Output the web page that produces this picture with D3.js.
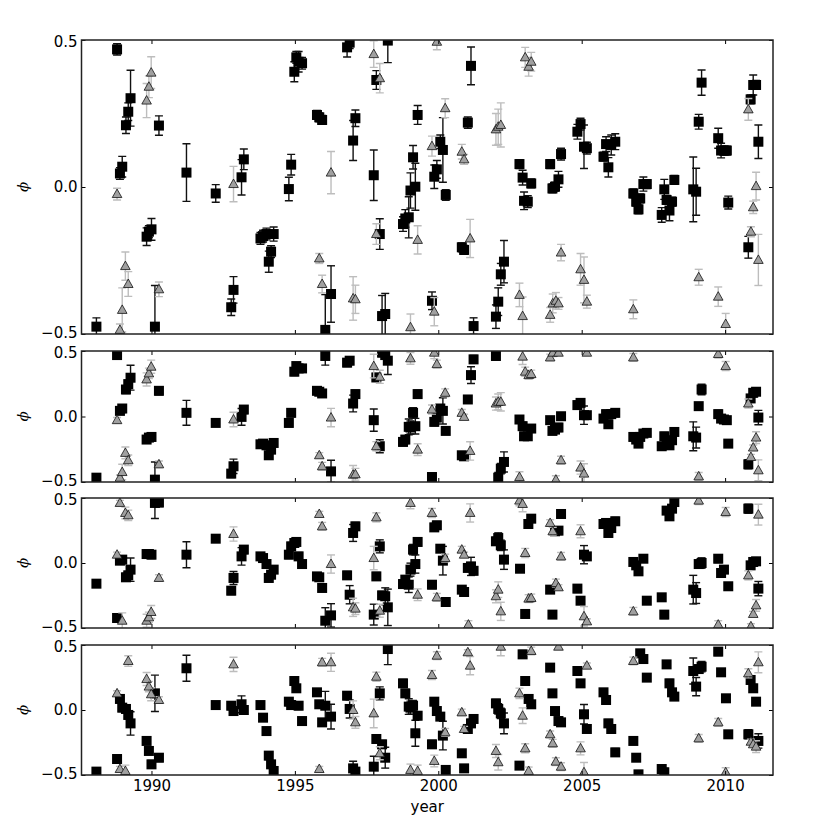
<!DOCTYPE html>
<html>
<head>
<meta charset="utf-8">
<script src="https://cdn.jsdelivr.net/npm/d3@7"></script>
<style>
  body { margin: 0; background: #fff; }
  svg { display: block; font-family: "DejaVu Sans", sans-serif; }
</style>
</head>
<body>
<div id="chart"></div>
<script>
// each point: [year, phi, error]
// panel 1
var p1Squares = [
  [1988.08,-0.475,0.03],[1988.80,0.468,0.019],[1988.90,0.046,0.02],[1988.98,0.069,0.035],[1989.11,0.210,0.028],
  [1989.19,0.256,0.03],[1989.27,0.302,0.095],[1990.26,0.209,0.033],[1989.83,-0.169,0.03],[1989.91,-0.152,0.02],
  [1990.00,-0.144,0.037],[1990.12,-0.475,0.14],[1991.22,0.049,0.098],[1992.24,-0.022,0.03],[1992.78,-0.409,0.028],
  [1992.86,-0.350,0.045],[1993.14,0.033,0.06],[1993.22,0.094,0.035],[1993.80,-0.175,0.02],[1993.89,-0.167,0.02],
  [1994.01,-0.160,0.02],[1994.26,-0.160,0.024],[1994.17,-0.220,0.02],[1994.09,-0.254,0.036],[1994.79,-0.007,0.04],
  [1994.87,0.076,0.035],[1994.98,0.392,0.034],[1995.05,0.441,0.02],[1995.13,0.426,0.035],[1995.25,0.421,0.02],
  [1995.77,0.245,0.015],[1995.85,0.237,0.015],[1995.95,0.228,0.015],[1996.06,-0.486,0.12],[1996.26,-0.364,0.096],
  [1996.82,0.475,0.033],[1996.91,0.491,0.02],[1997.03,0.158,0.068],[1997.11,0.234,0.028],[1997.75,0.040,0.086],
  [1997.84,0.364,0.032],[1997.96,-0.160,0.052],[1998.04,-0.439,0.07],[1998.15,-0.432,0.07],[1998.24,0.498,0.075],
  [1998.77,-0.126,0.025],[1998.85,-0.107,0.03],[1998.97,-0.103,0.07],[1999.03,-0.012,0.06],[1999.20,0.001,0.08],
  [1999.12,0.101,0.04],[1999.28,0.245,0.032],[1999.78,-0.387,0.03],[1999.86,0.035,0.04],[1999.95,0.060,0.03],
  [2000.07,0.154,0.023],[2000.16,0.126,0.11],[2000.26,-0.027,0.018],[2001.14,0.412,0.064],[2001.03,0.219,0.019],
  [2000.82,-0.205,0.015],[2000.90,-0.214,0.015],[2001.23,-0.473,0.028],[2002.01,-0.441,0.04],[2002.09,-0.390,0.047],
  [2002.18,-0.297,0.037],[2002.29,-0.254,0.072],[2002.83,0.078,0.015],[2002.94,0.032,0.025],[2002.99,-0.047,0.03],
  [2003.12,-0.050,0.02],[2003.24,0.012,0.015],[2003.90,0.078,0.015],[2003.98,-0.005,0.015],[2004.07,0.001,0.015],
  [2004.19,0.026,0.027],[2004.28,0.112,0.02],[2004.85,0.188,0.025],[2004.96,0.214,0.02],[2005.08,0.137,0.074],
  [2005.18,0.132,0.02],[2005.76,0.103,0.015],[2005.85,0.146,0.025],[2005.93,0.067,0.033],[2006.03,0.143,0.034],
  [2006.17,0.154,0.027],[2006.80,-0.022,0.015],[2006.90,-0.050,0.015],[2006.98,-0.076,0.015],[2007.04,-0.039,0.015],
  [2007.15,0.010,0.024],[2007.27,0.010,0.015],[2007.79,-0.095,0.025],[2007.88,-0.008,0.034],[2007.96,-0.044,0.015],
  [2008.06,-0.080,0.035],[2008.15,-0.050,0.015],[2008.23,0.024,0.015],[2008.89,-0.008,0.11],[2008.99,-0.016,0.08],
  [2009.08,0.222,0.025],[2009.18,0.355,0.043],[2009.76,0.166,0.034],[2009.86,0.124,0.025],[2009.96,0.124,0.015],
  [2010.06,0.124,0.015],[2010.11,-0.053,0.022],[2010.81,-0.205,0.037],[2010.89,0.298,0.015],[2010.98,0.347,0.034],
  [2011.08,0.347,0.015],[2011.16,0.154,0.057]
];
var p1Triangles = [
  [1988.80,-0.024,0.02],[1988.90,-0.486,0.02],[1988.98,-0.418,0.075],[1989.09,-0.269,0.048],[1989.19,-0.330,0.042],
  [1989.83,0.294,0.058],[1989.91,0.341,0.037],[1989.99,0.389,0.054],[1990.26,-0.348,0.025],[1992.86,0.010,0.06],
  [1995.85,-0.243,0.017],[1995.95,-0.330,0.03],[1996.26,0.049,0.072],[1997.03,-0.379,0.074],[1997.11,-0.382,0.048],
  [1997.75,0.452,0.045],[1997.84,-0.160,0.035],[1997.96,0.370,0.05],[1999.03,-0.477,0.045],[1999.28,-0.180,0.048],
  [1999.78,0.139,0.034],[1999.86,-0.424,0.048],[1999.95,0.494,0.027],[2000.24,0.268,0.032],[2000.82,0.120,0.025],
  [2000.90,0.094,0.017],[2001.11,-0.175,0.065],[2002.01,0.196,0.054],[2002.09,0.205,0.06],[2002.18,0.211,0.075],
  [2002.83,-0.367,0.04],[2002.94,-0.439,0.065],[2003.03,0.441,0.034],[2003.15,0.409,0.032],[2003.24,0.426,0.032],
  [2003.90,-0.435,0.025],[2003.99,-0.396,0.032],[2004.10,-0.387,0.028],[2004.19,-0.396,0.02],[2004.28,-0.223,0.028],
  [2004.96,-0.280,0.054],[2005.08,-0.316,0.078],[2005.18,-0.390,0.022],[2006.80,-0.416,0.032],[2009.08,-0.307,0.027],
  [2009.76,-0.373,0.033],[2010.02,-0.466,0.036],[2010.81,0.264,0.037],[2010.98,-0.069,0.021],[2010.90,-0.152,0.017],
  [2011.08,0.003,0.047],[2011.16,-0.248,0.087]
];
// panel 2
var p2Squares = [
  [1988.08,-0.467,0.03],[1988.80,0.469,0.02],[1988.90,0.043,0.02],[1988.98,0.061,0.03],[1989.11,0.206,0.03],
  [1989.19,0.247,0.03],[1989.27,0.296,0.095],[1990.26,0.196,0.03],[1989.83,-0.176,0.02],[1989.91,-0.161,0.02],
  [1990.00,-0.156,0.03],[1990.12,-0.482,0.135],[1991.22,0.028,0.095],[1992.24,-0.049,0.02],[1992.78,-0.436,0.03],
  [1992.86,-0.380,0.055],[1993.14,-0.003,0.064],[1993.22,0.053,0.03],[1993.80,-0.212,0.02],[1993.89,-0.207,0.02],
  [1994.01,-0.220,0.02],[1994.26,-0.202,0.02],[1994.17,-0.253,0.02],[1994.09,-0.296,0.03],[1994.79,-0.049,0.03],
  [1994.87,0.028,0.03],[1994.98,0.342,0.03],[1995.05,0.385,0.02],[1995.13,0.367,0.03],[1995.25,0.367,0.02],
  [1995.77,0.196,0.015],[1995.85,0.189,0.015],[1995.95,0.176,0.015],[1996.06,0.462,0.07],[1996.26,-0.419,0.085],
  [1996.82,0.411,0.03],[1996.91,0.426,0.03],[1997.03,0.099,0.064],[1997.11,0.171,0.03],[1997.75,-0.028,0.085],
  [1997.84,0.298,0.03],[1997.96,-0.227,0.05],[1998.04,0.487,0.03],[1998.15,0.469,0.03],[1998.24,0.426,0.105],
  [1998.77,-0.194,0.03],[1998.85,-0.176,0.03],[1998.97,-0.079,0.06],[1999.03,-0.084,0.05],[1999.20,-0.074,0.06],
  [1999.12,0.028,0.04],[1999.28,0.171,0.03],[1999.78,-0.462,0.03],[1999.86,-0.041,0.03],[1999.95,-0.008,0.03],
  [2000.07,0.061,0.02],[2000.16,0.043,0.1],[2000.26,-0.110,0.02],[2001.14,0.316,0.064],[2001.03,0.130,0.02],
  [2000.82,-0.296,0.02],[2000.90,-0.304,0.02],[2001.23,0.436,0.03],[2002.01,0.462,0.03],[2002.09,-0.467,0.04],
  [2002.18,-0.398,0.04],[2002.29,-0.347,0.077],[2002.83,-0.023,0.02],[2002.94,-0.074,0.03],[2002.99,-0.151,0.03],
  [2003.12,-0.151,0.02],[2003.24,-0.092,0.02],[2003.90,-0.028,0.02],[2003.98,-0.110,0.02],[2004.07,-0.100,0.02],
  [2004.19,-0.084,0.03],[2004.28,0.002,0.02],[2004.85,0.087,0.03],[2004.96,0.104,0.02],[2005.08,0.010,0.07],
  [2005.18,0.010,0.02],[2005.76,-0.016,0.02],[2005.85,0.018,0.03],[2005.93,-0.059,0.03],[2006.03,0.018,0.03],
  [2006.17,0.028,0.03],[2006.80,-0.156,0.02],[2006.90,-0.176,0.02],[2006.98,-0.207,0.02],[2007.04,-0.156,0.02],
  [2007.15,-0.130,0.02],[2007.27,-0.125,0.02],[2007.79,-0.227,0.02],[2007.88,-0.151,0.03],[2007.96,-0.194,0.02],
  [2008.06,-0.220,0.03],[2008.15,-0.181,0.02],[2008.23,-0.118,0.02],[2008.89,-0.151,0.11],[2008.99,-0.161,0.08],
  [2009.08,0.079,0.02],[2009.18,0.206,0.04],[2009.76,0.018,0.03],[2009.86,-0.016,0.02],[2009.96,-0.023,0.02],
  [2010.06,-0.028,0.02],[2010.11,-0.207,0.02],[2010.81,-0.365,0.035],[2010.89,0.138,0.02],[2010.98,0.181,0.03],
  [2011.08,0.189,0.02],[2011.16,-0.008,0.055]
];
var p2Triangles = [
  [1988.80,-0.028,0.02],[1988.90,-0.467,0.02],[1988.98,-0.424,0.06],[1989.09,-0.278,0.045],[1989.19,-0.334,0.04],
  [1989.83,0.283,0.05],[1989.91,0.329,0.04],[1989.99,0.380,0.05],[1990.26,-0.365,0.025],[1992.86,-0.023,0.055],
  [1995.85,-0.296,0.02],[1995.95,-0.380,0.03],[1996.26,-0.008,0.07],[1997.03,-0.444,0.07],[1997.11,-0.441,0.045],
  [1997.75,0.385,0.09],[1997.84,-0.227,0.035],[1997.96,0.303,0.05],[1999.03,0.444,0.045],[1999.28,-0.253,0.045],
  [1999.78,0.053,0.035],[1999.86,0.487,0.045],[1999.95,0.400,0.03],[2000.24,0.181,0.03],[2000.82,0.028,0.025],
  [2000.90,-0.003,0.02],[2001.11,-0.263,0.07],[2002.01,0.099,0.05],[2002.09,0.112,0.06],[2002.18,0.112,0.07],
  [2002.83,-0.462,0.04],[2002.94,0.457,0.06],[2003.03,0.342,0.035],[2003.15,0.316,0.03],[2003.24,0.324,0.03],
  [2003.90,0.451,0.025],[2003.99,0.487,0.03],[2004.10,-0.482,0.03],[2004.19,0.487,0.02],[2004.28,-0.334,0.03],
  [2004.96,-0.390,0.05],[2005.08,-0.436,0.075],[2005.18,0.487,0.02],[2006.80,0.451,0.03],[2009.08,-0.457,0.03],
  [2009.76,0.477,0.03],[2010.02,0.385,0.035],[2010.81,0.099,0.035],[2010.98,-0.237,0.02],[2010.90,-0.309,0.02],
  [2011.08,-0.161,0.045],[2011.16,-0.411,0.08]
];
// panel 3
var p3Squares = [
  [1988.08,-0.159,0.02],[1988.80,-0.423,0.02],[1988.90,0.018,0.02],[1988.98,0.026,0.03],[1989.11,-0.110,0.03],
  [1989.19,-0.095,0.03],[1989.27,-0.051,0.09],[1990.12,0.462,0.12],[1990.26,0.465,0.03],[1989.83,0.069,0.02],
  [1989.91,0.069,0.02],[1990.00,0.064,0.03],[1991.22,0.064,0.1],[1992.24,0.187,0.02],[1992.78,-0.213,0.03],
  [1992.86,-0.115,0.05],[1993.14,0.051,0.067],[1993.22,0.103,0.03],[1993.80,0.051,0.02],[1993.89,0.038,0.02],
  [1994.01,-0.008,0.02],[1994.26,-0.051,0.02],[1994.17,-0.090,0.02],[1994.09,-0.115,0.03],[1994.79,0.064,0.03],
  [1994.87,0.128,0.03],[1994.98,0.154,0.03],[1995.05,0.162,0.02],[1995.13,0.051,0.03],[1995.25,-0.008,0.02],
  [1995.77,-0.103,0.015],[1995.85,-0.110,0.015],[1995.95,-0.192,0.015],[1996.06,-0.444,0.1],[1996.26,-0.403,0.09],
  [1996.82,-0.095,0.03],[1996.91,-0.244,0.07],[1997.03,0.231,0.065],[1997.11,0.282,0.03],[1997.75,-0.397,0.08],
  [1997.84,-0.103,0.03],[1997.96,0.128,0.05],[1998.04,-0.249,0.03],[1998.15,-0.256,0.065],[1998.24,-0.341,0.14],
  [1998.77,-0.162,0.03],[1998.85,-0.128,0.03],[1998.97,-0.167,0.06],[1999.03,-0.051,0.05],[1999.20,-0.008,0.07],
  [1999.12,0.103,0.04],[1999.28,0.162,0.03],[1999.78,-0.167,0.03],[1999.86,0.274,0.03],[1999.95,0.290,0.03],
  [2000.07,0.110,0.02],[2000.16,0.018,0.11],[2000.26,-0.300,0.02],[2000.82,-0.205,0.02],[2000.90,-0.223,0.02],
  [2001.03,-0.038,0.02],[2001.14,-0.026,0.07],[2001.23,-0.060,0.03],[2002.01,0.167,0.03],[2002.09,0.192,0.04],
  [2002.18,0.136,0.04],[2002.29,0.026,0.075],[2002.85,-0.044,0.02],[2003.03,-0.392,0.03],[2003.14,0.300,0.02],
  [2003.24,0.341,0.02],[2003.90,-0.205,0.02],[2003.98,-0.397,0.02],[2004.07,0.244,0.02],[2004.19,0.249,0.03],
  [2004.28,0.377,0.02],[2004.85,-0.197,0.03],[2004.96,-0.290,0.02],[2005.08,0.064,0.07],[2005.18,0.051,0.02],
  [2005.76,0.300,0.02],[2005.85,0.308,0.03],[2005.93,0.231,0.03],[2006.03,0.269,0.03],[2006.17,0.321,0.03],
  [2006.80,0.008,0.02],[2006.90,-0.018,0.02],[2006.98,-0.064,0.02],[2007.15,0.033,0.02],[2007.27,-0.290,0.02],
  [2007.79,-0.264,0.02],[2007.88,-0.397,0.03],[2007.96,0.403,0.02],[2008.06,0.359,0.03],[2008.15,0.418,0.02],
  [2008.23,0.469,0.02],[2008.89,-0.205,0.11],[2008.99,-0.231,0.08],[2009.08,-0.008,0.02],[2009.18,0.000,0.04],
  [2009.76,0.033,0.03],[2009.86,-0.077,0.02],[2009.96,-0.051,0.02],[2010.11,-0.179,0.02],[2010.81,0.418,0.035],
  [2010.89,-0.018,0.02],[2010.98,0.008,0.03],[2011.08,0.013,0.02],[2011.16,-0.197,0.055]
];
var p3Triangles = [
  [1988.80,0.064,0.02],[1988.90,0.462,0.02],[1988.98,-0.444,0.06],[1989.09,0.385,0.045],[1989.19,0.367,0.04],
  [1989.83,-0.444,0.05],[1989.91,-0.418,0.04],[1989.99,-0.377,0.05],[1990.26,-0.115,0.025],[1992.86,0.223,0.055],
  [1995.85,0.377,0.02],[1995.95,0.282,0.03],[1996.26,-0.008,0.07],[1997.03,-0.341,0.07],[1997.11,-0.351,0.045],
  [1997.75,0.038,0.09],[1997.84,0.351,0.035],[1997.96,-0.367,0.05],[1999.03,0.462,0.045],[1999.28,-0.244,0.045],
  [1999.78,0.385,0.035],[1999.95,-0.264,0.03],[2000.24,0.038,0.03],[2000.82,0.103,0.025],[2000.90,0.064,0.02],
  [2001.05,-0.474,0.03],[2001.11,0.385,0.07],[2002.01,-0.256,0.05],[2002.09,-0.205,0.06],[2002.18,-0.372,0.07],
  [2002.83,0.480,0.04],[2002.94,0.454,0.06],[2003.03,0.077,0.035],[2003.15,-0.274,0.03],[2003.24,-0.269,0.03],
  [2003.90,0.308,0.025],[2003.99,0.244,0.03],[2004.10,-0.154,0.03],[2004.19,-0.187,0.02],[2004.28,0.051,0.03],
  [2004.96,0.244,0.05],[2005.08,-0.410,0.075],[2005.18,-0.449,0.02],[2006.80,-0.372,0.03],[2009.08,0.480,0.03],
  [2009.76,-0.474,0.03],[2010.02,0.392,0.035],[2010.81,-0.095,0.035],[2010.98,-0.392,0.02],[2010.90,-0.487,0.02],
  [2011.08,-0.326,0.045],[2011.16,0.372,0.08]
];
// panel 4
var p4Squares = [
  [1988.08,-0.474,0.02],[1988.80,-0.377,0.02],[1988.90,0.085,0.02],[1988.98,0.018,0.03],[1989.11,0.008,0.03],
  [1989.19,-0.038,0.03],[1989.27,-0.103,0.09],[1989.83,-0.238,0.02],[1989.91,-0.315,0.02],[1990.00,-0.418,0.03],
  [1990.12,0.128,0.14],[1990.26,-0.367,0.03],[1991.22,0.321,0.1],[1992.24,0.038,0.02],[1992.78,0.033,0.03],
  [1992.86,-0.008,0.03],[1993.14,0.044,0.065],[1993.22,0.000,0.03],[1993.80,0.038,0.02],[1993.89,-0.059,0.02],
  [1994.01,-0.162,0.02],[1994.09,-0.351,0.03],[1994.17,-0.418,0.02],[1994.26,-0.469,0.02],[1994.79,0.064,0.03],
  [1994.87,0.038,0.03],[1994.98,0.223,0.03],[1995.05,0.167,0.02],[1995.13,0.033,0.03],[1995.25,-0.085,0.02],
  [1995.77,0.136,0.015],[1995.85,0.044,0.015],[1995.95,-0.095,0.015],[1996.06,0.033,0.11],[1996.26,-0.051,0.095],
  [1996.82,0.110,0.03],[1996.91,0.008,0.07],[1997.03,-0.449,0.055],[1997.11,-0.474,0.03],[1997.75,-0.436,0.08],
  [1997.84,-0.223,0.03],[1997.96,0.128,0.05],[1998.04,-0.264,0.03],[1998.15,-0.367,0.08],[1998.24,0.469,0.12],
  [1998.77,0.205,0.03],[1998.85,0.128,0.03],[1998.97,0.026,0.06],[1999.03,0.018,0.05],[1999.12,0.033,0.04],
  [1999.20,-0.179,0.1],[1999.28,-0.044,0.03],[1999.78,-0.264,0.03],[1999.86,0.064,0.03],[1999.95,-0.008,0.03],
  [2000.07,-0.051,0.02],[2000.16,-0.197,0.11],[2000.26,-0.461,0.02],[2000.82,-0.333,0.02],[2000.90,-0.449,0.02],
  [2001.03,-0.146,0.02],[2001.14,-0.103,0.03],[2001.23,-0.069,0.03],[2002.01,0.051,0.03],[2002.09,0.008,0.04],
  [2002.18,-0.026,0.04],[2002.29,-0.103,0.08],[2002.83,-0.428,0.02],[2002.94,0.428,0.03],[2003.03,0.223,0.02],
  [2003.15,0.085,0.02],[2003.24,0.044,0.02],[2003.90,0.326,0.02],[2003.98,0.128,0.02],[2004.07,-0.008,0.02],
  [2004.19,-0.085,0.03],[2004.28,-0.095,0.02],[2004.85,0.300,0.03],[2004.96,0.205,0.02],[2005.08,-0.033,0.075],
  [2005.18,-0.146,0.02],[2005.76,0.136,0.02],[2005.85,0.077,0.03],[2005.93,-0.103,0.03],[2006.03,-0.146,0.03],
  [2006.17,-0.326,0.03],[2006.80,-0.238,0.02],[2006.90,-0.367,0.02],[2006.98,-0.495,0.02],[2007.04,0.436,0.02],
  [2007.15,0.392,0.02],[2007.27,0.249,0.02],[2007.79,-0.454,0.02],[2007.88,-0.479,0.03],[2007.96,0.351,0.02],
  [2008.06,0.205,0.03],[2008.15,0.136,0.02],[2008.23,0.103,0.02],[2008.89,0.300,0.1],[2008.99,0.180,0.07],
  [2009.08,0.315,0.02],[2009.18,0.333,0.04],[2009.76,0.449,0.03],[2009.86,0.290,0.02],[2010.03,0.090,0.02],
  [2010.11,-0.187,0.02],[2010.81,-0.187,0.035],[2010.89,0.231,0.02],[2010.98,0.167,0.03],[2011.08,0.064,0.02],
  [2011.16,-0.238,0.055]
];
var p4Triangles = [
  [1988.80,0.128,0.02],[1988.90,-0.454,0.02],[1989.09,-0.469,0.045],[1989.19,0.377,0.04],[1989.83,0.238,0.05],
  [1989.91,0.180,0.04],[1989.99,0.121,0.05],[1990.26,0.077,0.025],[1992.86,0.351,0.055],[1995.85,-0.454,0.02],
  [1995.95,0.367,0.03],[1996.26,0.367,0.07],[1997.03,0.000,0.07],[1997.11,-0.095,0.045],[1997.75,-0.026,0.11],
  [1997.84,0.256,0.035],[1997.96,-0.333,0.05],[1999.03,-0.461,0.045],[1999.28,-0.469,0.045],[1999.78,0.269,0.035],
  [1999.86,-0.392,0.045],[1999.95,0.418,0.03],[2000.24,-0.172,0.03],[2000.82,-0.018,0.025],[2000.90,-0.146,0.02],
  [2001.03,0.444,0.02],[2001.11,0.341,0.07],[2002.01,-0.315,0.05],[2002.09,-0.402,0.06],[2002.18,0.487,0.07],
  [2002.83,0.128,0.04],[2002.94,-0.044,0.06],[2003.03,-0.295,0.035],[2003.15,-0.469,0.03],[2003.24,0.454,0.03],
  [2003.90,-0.187,0.025],[2003.99,-0.256,0.03],[2004.10,-0.397,0.03],[2004.19,0.487,0.02],[2004.28,-0.436,0.03],
  [2004.96,-0.295,0.05],[2005.08,-0.479,0.075],[2005.18,0.341,0.02],[2006.80,0.377,0.03],[2009.08,-0.218,0.03],
  [2009.76,-0.095,0.03],[2010.02,-0.479,0.035],[2010.81,0.282,0.035],[2010.90,-0.244,0.02],[2010.98,-0.264,0.02],
  [2011.08,-0.282,0.045],[2011.16,0.367,0.08]
];

var xTicks = [1990, 1995, 2000, 2005, 2010];
var yTicks = [-0.5, 0.0, 0.5];

var svgWidth = 813;
var svgHeight = 818;

// pixel boxes of the 4 stacked panels
var plotLeft = 81.5, plotRight = 773;
var panels = [
  {top: 40,  bottom: 334, squares: p1Squares, triangles: p1Triangles},
  {top: 351, bottom: 482, squares: p2Squares, triangles: p2Triangles},
  {top: 498, bottom: 628, squares: p3Squares, triangles: p3Triangles},
  {top: 645, bottom: 775, squares: p4Squares, triangles: p4Triangles}
];

var svg = d3.select("#chart")
  .append("svg")
  .attr("width", svgWidth)
  .attr("height", svgHeight);

var xScale = d3.scaleLinear()
  .domain([1987.56, 2011.67])
  .range([plotLeft, plotRight]);

var fmt = d3.format(".1f");

panels.forEach(function(p, i) {
  var yScale = d3.scaleLinear()
    .domain([-0.5, 0.5])
    .range([p.bottom, p.top]);

  svg.append("clipPath")
    .attr("id", "clip" + i)
    .append("rect")
    .attr("x", plotLeft)
    .attr("y", p.top)
    .attr("width", plotRight - plotLeft)
    .attr("height", p.bottom - p.top);

  var g = svg.append("g").attr("clip-path", "url(#clip" + i + ")");

  // error bars: vertical line plus caps
  function drawBars(data, barColor) {
    var bars = g.append("g").attr("stroke", barColor).attr("stroke-width", 1.4);
    bars.selectAll("line.v").data(data).enter().append("line")
      .attr("class", "v")
      .attr("x1", d => xScale(d[0])).attr("x2", d => xScale(d[0]))
      .attr("y1", d => yScale(d[1] - d[2])).attr("y2", d => yScale(d[1] + d[2]));
    bars.selectAll("line.cu").data(data).enter().append("line")
      .attr("class", "cu")
      .attr("x1", d => xScale(d[0]) - 4).attr("x2", d => xScale(d[0]) + 4)
      .attr("y1", d => yScale(d[1] + d[2])).attr("y2", d => yScale(d[1] + d[2]));
    bars.selectAll("line.cd").data(data).enter().append("line")
      .attr("class", "cd")
      .attr("x1", d => xScale(d[0]) - 4).attr("x2", d => xScale(d[0]) + 4)
      .attr("y1", d => yScale(d[1] - d[2])).attr("y2", d => yScale(d[1] - d[2]));
  }

  // squares first, triangles on top
  drawBars(p.squares, "#111");
  g.append("g").selectAll("rect").data(p.squares).enter().append("rect")
    .attr("x", d => xScale(d[0]) - 5)
    .attr("y", d => yScale(d[1]) - 5)
    .attr("width", 10).attr("height", 10)
    .attr("fill", "#000");

  drawBars(p.triangles, "#bdbdbd");
  g.append("g").selectAll("path").data(p.triangles).enter().append("path")
    .attr("d", d => {
      var cx = xScale(d[0]), cy = yScale(d[1]);
      return "M" + cx + "," + (cy - 5) + "L" + (cx + 4.8) + "," + (cy + 3.5) + "L" + (cx - 4.8) + "," + (cy + 3.5) + "Z";
    })
    .attr("fill", "#a0a0a0")
    .attr("stroke", "#111")
    .attr("stroke-width", 0.8);

  // axes, ticks pointing inward
  var last = (i === panels.length - 1);
  var bottomAxis = d3.axisBottom(xScale).tickValues(xTicks).tickSizeInner(-4).tickSizeOuter(0)
    .tickPadding(5).tickFormat(last ? d3.format("d") : "");
  var topAxis = d3.axisTop(xScale).tickValues(xTicks).tickSizeInner(-4).tickSizeOuter(0).tickFormat("");
  var leftAxis = d3.axisLeft(yScale).tickValues(yTicks).tickSizeInner(-4).tickSizeOuter(0)
    .tickPadding(4).tickFormat(fmt);
  var rightAxis = d3.axisRight(yScale).tickValues(yTicks).tickSizeInner(-4).tickSizeOuter(0).tickFormat("");

  var axes = [
    svg.append("g").attr("transform", `translate(0, ${p.bottom})`).call(bottomAxis),
    svg.append("g").attr("transform", `translate(0, ${p.top})`).call(topAxis),
    svg.append("g").attr("transform", `translate(${plotLeft}, 0)`).call(leftAxis),
    svg.append("g").attr("transform", `translate(${plotRight}, 0)`).call(rightAxis)
  ];
  axes.forEach(function(ax) {
    ax.select(".domain").remove();
    ax.selectAll("line").attr("stroke", "#000").attr("stroke-width", 1);
    ax.selectAll("text").attr("font-family", "DejaVu Sans").attr("font-size", 15).attr("fill", "#000");
  });
  // keep stacked -0.5 / 0.5 labels of neighbouring panels apart
  axes[2].selectAll("text")
    .attr("dy", d => d === 0.5 ? "0.45em" : (d === -0.5 ? "0.2em" : "0.32em"));

  // frame
  svg.append("rect")
    .attr("x", plotLeft).attr("y", p.top)
    .attr("width", plotRight - plotLeft).attr("height", p.bottom - p.top)
    .attr("fill", "none").attr("stroke", "#222").attr("stroke-width", 1.5);

  // y label (rotated phi)
  svg.append("text")
    .attr("transform", `translate(28, ${(p.top + p.bottom) / 2}) rotate(-90)`)
    .attr("text-anchor", "middle")
    .attr("font-family", "DejaVu Serif")
    .attr("font-style", "italic")
    .attr("font-size", 15)
    .text("\u03D5");
});

svg.append("text")
  .attr("x", (plotLeft + plotRight) / 2)
  .attr("y", 812)
  .attr("text-anchor", "middle")
  .attr("font-family", "DejaVu Sans")
  .attr("font-size", 15)
  .text("year");
</script>
</body>
</html>
